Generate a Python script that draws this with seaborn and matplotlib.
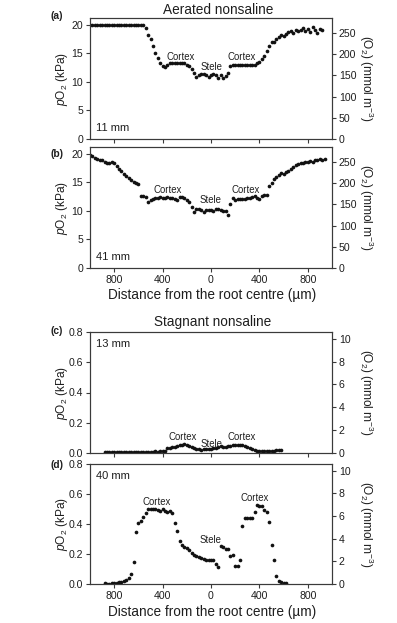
import numpy as np
import pandas as pd
import matplotlib
matplotlib.use("Agg")
import matplotlib.pyplot as plt
import seaborn as sns

# ---------------- data ----------------
step = 20  # measurement spacing (µm)

dist_a = np.arange(-1000, 921, step)
po2_a = [19.9] * 23 + [
    19.4, 18.2, 17.4, 16.3, 15.0, 14.2, 13.3, 12.8, 12.5, 12.9,
    13.2, 13.3, 13.3, 13.3, 13.3, 13.2, 13.2, 13.0, 12.7, 12.3,
    11.5, 10.9, 11.1, 11.4, 11.3, 11.1, 10.9, 11.2, 11.3, 11.1,
    10.7, 11.2, 10.6, 11.0, 11.6, 12.8, 12.9, 12.9, 12.9, 12.9,
    13.0, 12.9, 13.0, 13.0, 13.0, 13.0, 13.2, 13.5, 14.0, 14.5,
    15.4, 16.3, 16.9, 17.0, 17.5, 17.8, 18.1, 18.0, 18.3, 18.7,
    18.8, 18.6, 19.0, 18.8, 19.0, 19.4, 18.9, 19.2, 18.7, 19.5,
    19.1, 18.6, 19.3, 19.0]

dist_b = np.arange(-1000, 941, step)
po2_b = [
    19.7, 19.5, 19.3, 19.1, 18.9, 18.8, 18.6, 18.4, 18.3, 18.5,
    18.4, 17.9, 17.3, 16.9, 16.5, 16.1, 15.7, 15.4, 15.1, 14.9,
    14.7, 12.6, 12.5, 12.4, 11.6, 11.9, 12.1, 12.3, 12.3, 12.4,
    12.3, 12.3, 12.4, 12.3, 12.2, 12.1, 11.9, 12.4, 12.4, 12.3,
    11.9, 11.5, 10.6, 9.8, 10.3, 10.4, 10.2, 9.8, 10.1, 10.2,
    10.2, 10.0, 10.3, 10.4, 10.1, 10.0, 9.9, 9.3, 11.1, 12.2,
    11.8, 12.0, 12.0, 12.1, 12.1, 12.2, 12.3, 12.4, 12.5, 12.3,
    12.1, 12.5, 12.7, 12.8, 14.3, 14.9, 15.5, 15.9, 16.2, 16.6,
    16.5, 16.8, 17.0, 17.3, 17.7, 18.0, 18.2, 18.3, 18.4, 18.5,
    18.6, 18.7, 18.6, 18.8, 18.9, 19.0, 18.9, 19.1]

dist_c = np.arange(-880, 581, step)
po2_c = [
    0.008, 0.006, 0.007, 0.005, 0.006, 0.008, 0.007, 0.006, 0.006, 0.007,
    0.008, 0.005, 0.004, 0.006, 0.007, 0.006, 0.008, 0.007, 0.008, 0.009,
    0.008, 0.010, 0.009, 0.010, 0.012, 0.010, 0.032, 0.036, 0.038, 0.042,
    0.045, 0.050, 0.055, 0.058, 0.055, 0.048, 0.040, 0.033, 0.028, 0.025,
    0.022, 0.024, 0.025, 0.027, 0.025, 0.030, 0.036, 0.040, 0.043, 0.042,
    0.040, 0.044, 0.048, 0.052, 0.055, 0.055, 0.054, 0.051, 0.046, 0.042,
    0.036, 0.028, 0.018, 0.012, 0.010, 0.010, 0.011, 0.012, 0.014, 0.015,
    0.016, 0.018, 0.017, 0.018]

dist_d = np.arange(-880, 621, step)
po2_d = [
    0.005, 0.003, 0.002, 0.004, 0.006, 0.009, 0.012, 0.015, 0.018, 0.026,
    0.038, 0.066, 0.144, 0.345, 0.408, 0.417, 0.448, 0.476, 0.497, 0.502,
    0.498, 0.497, 0.493, 0.490, 0.497, 0.490, 0.482, 0.484, 0.476, 0.410,
    0.355, 0.290, 0.262, 0.250, 0.240, 0.225, 0.205, 0.194, 0.186, 0.178,
    0.172, 0.168, 0.163, 0.160, 0.157, 0.160, 0.135, 0.112, 0.255, 0.244,
    0.232, 0.236, 0.190, 0.193, 0.122, 0.118, 0.160, 0.388, 0.443, 0.443,
    0.437, 0.440, 0.477, 0.528, 0.523, 0.517, 0.494, 0.479, 0.415, 0.257,
    0.162, 0.051, 0.022, 0.011, 0.007, 0.006]

xticks = [-800, -400, 0, 400, 800]
xtick_labels = ["800", "400", "0", "400", "800"]

# ---------------- style ----------------
sns.set_style("ticks")
plt.rcParams["font.family"] = ["Liberation Sans", "DejaVu Sans"]
plt.rcParams["mathtext.fontset"] = "custom"
plt.rcParams["mathtext.rm"] = "Liberation Sans"
plt.rcParams["mathtext.it"] = "Liberation Sans:italic"
plt.rcParams["mathtext.bf"] = "Liberation Sans:bold"

SPINE = "#3a3a3a"
TXT = "#1e1e1e"
W, H = 397, 623
fig = plt.figure(figsize=(W / 100, H / 100), dpi=100)


def rect(left, top, right, bottom):
    return [left / W, 1 - bottom / H, (right - left) / W, (bottom - top) / H]


def ftext(x, y, s, **kw):
    kw.setdefault("ha", "center")
    kw.setdefault("va", "center")
    kw.setdefault("color", TXT)
    fig.text(x / W, 1 - y / H, s, **kw)


panels = [
    dict(d=dist_a, v=po2_a, top=18, bot=139, ylim=(0, 21.15), yt=[0, 5, 10, 15, 20],
         ylab=["0", "5", "10", "15", "20"], r2=(0, 285), rt=[0, 50, 100, 150, 200, 250],
         lab="(a)", laby=16, xl=None, mm="11 mm", mmy=2.0,
         notes=[("Cortex", -248, 14.4), ("Stele", 8, 12.5), ("Cortex", 257, 14.4)]),
    dict(d=dist_b, v=po2_b, top=147, bot=268, ylim=(0, 21.15), yt=[0, 5, 10, 15, 20],
         ylab=["0", "5", "10", "15", "20"], r2=(0, 285), rt=[0, 50, 100, 150, 200, 250],
         lab="(b)", laby=154, xl=295, mm="41 mm", mmy=2.0,
         notes=[("Cortex", -356, 13.7), ("Stele", -8, 11.8), ("Cortex", 290, 13.7)]),
    dict(d=dist_c, v=po2_c, top=332, bot=453, ylim=(0, 0.8), yt=[0, 0.2, 0.4, 0.6, 0.8],
         ylab=["0.0", "0.2", "0.4", "0.6", "0.8"], r2=(0, 10.58), rt=[0, 2, 4, 6, 8, 10],
         lab="(c)", laby=331, xl=None, mm="13 mm", mmy=0.722,
         notes=[("Cortex", -232, 0.106), ("Stele", 8, 0.0625), ("Cortex", 257, 0.106)]),
    dict(d=dist_d, v=po2_d, top=464, bot=584, ylim=(0, 0.8), yt=[0, 0.2, 0.4, 0.6, 0.8],
         ylab=["0.0", "0.2", "0.4", "0.6", "0.8"], r2=(0, 10.58), rt=[0, 2, 4, 6, 8, 10],
         lab="(d)", laby=465, xl=612, mm="40 mm", mmy=0.72,
         notes=[("Cortex", -447, 0.549), ("Stele", -8, 0.294), ("Cortex", 364, 0.571)]),
]

for p in panels:
    ax = fig.add_axes(rect(90, p["top"], 332, p["bot"]))
    df = pd.DataFrame({"dist": p["d"], "po2": p["v"]})
    sns.scatterplot(data=df, x="dist", y="po2", ax=ax, color="#111111", s=7,
                    linewidth=0, legend=False, zorder=3)
    ax.set_xlim(-1000, 1000)
    ax.set_ylim(*p["ylim"])
    ax.set_xticks(xticks)
    ax.set_yticks(p["yt"])
    ax.set_yticklabels(p["ylab"])
    ax.set_xlabel("")
    ax.set_ylabel("")
    if p["xl"] is not None:
        ax.set_xticklabels(xtick_labels)
        ftext(212, p["xl"], "Distance from the root centre (µm)", fontsize=9.8)
    else:
        ax.set_xticklabels([])
    ax.tick_params(axis="both", direction="out", length=3, width=0.8, colors=SPINE,
                   labelsize=7.6, labelcolor=TXT, pad=2)
    for sp in ax.spines.values():
        sp.set_color(SPINE)
        sp.set_linewidth(0.8)
        sp.set_visible(True)

    ax2 = ax.twinx()
    ax2.set_ylim(*p["r2"])
    ax2.set_yticks(p["rt"])
    ax2.tick_params(axis="y", direction="out", length=3, width=0.8, colors=SPINE,
                    labelsize=7.6, labelcolor=TXT, pad=2)
    for sp in ax2.spines.values():
        sp.set_color(SPINE)
        sp.set_linewidth(0.8)

    mid = (p["top"] + p["bot"]) / 2
    ftext(62, mid, "$p$O$_2$ (kPa)", fontsize=8.6, rotation=90)
    ftext(366, mid, "(O$_2$) (mmol m$^{-3}$)", fontsize=8.6, rotation=270)

    ax.text(-952, p["mmy"], p["mm"], ha="left", va="center", fontsize=8, color=TXT)
    for txt, x, y in p["notes"]:
        ax.text(x, y, txt, ha="center", va="center", fontsize=6.9, color=TXT)

    ftext(57, p["laby"], p["lab"], fontsize=7.4, fontweight="bold")

ftext(218, 9.5, "Aerated nonsaline", fontsize=9.8)
ftext(213, 321.7, "Stagnant nonsaline", fontsize=9.8)

fig.savefig("out.png", dpi=100, facecolor="white")
